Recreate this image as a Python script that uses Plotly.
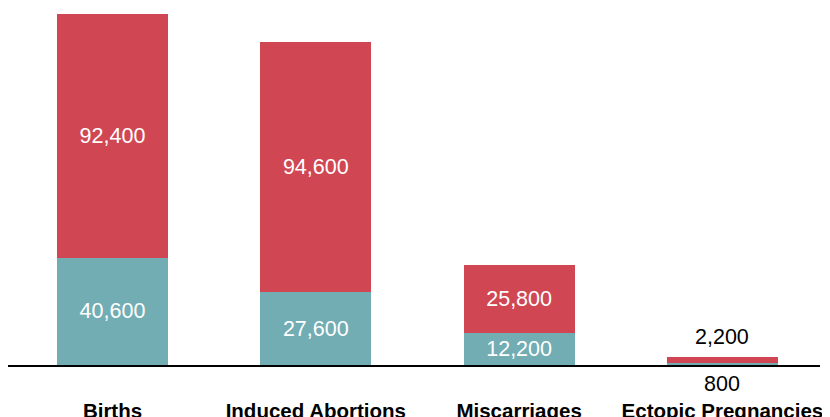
import plotly.graph_objects as go

categories = ["Births", "Induced Abortions", "Miscarriages", "Ectopic Pregnancies"]
bottom_values = [40600, 27600, 12200, 800]
top_values = [92400, 94600, 25800, 2200]

TEAL = "#72adb4"
RED = "#d04753"
FONT = "Liberation Sans, Arial, Helvetica, sans-serif"

def fmt(v):
    return f"{v:,}"

small = [i for i, (b, t) in enumerate(zip(bottom_values, top_values)) if b + t < 10000]

bottom_text = ["" if i in small else fmt(v) for i, v in enumerate(bottom_values)]
top_text = ["" if i in small else fmt(v) for i, v in enumerate(top_values)]

fig = go.Figure()
fig.add_trace(go.Bar(
    x=categories, y=bottom_values, marker=dict(color=TEAL, line=dict(width=0)),
    text=bottom_text, textposition="inside", insidetextanchor="middle",
    constraintext="none",
    textfont=dict(family=FONT, size=21.5, color="white"), hoverinfo="skip",
))
fig.add_trace(go.Bar(
    x=categories, y=top_values, marker=dict(color=RED, line=dict(width=0)),
    text=top_text, textposition="inside", insidetextanchor="middle",
    constraintext="none",
    textfont=dict(family=FONT, size=21.5, color="white"), hoverinfo="skip",
))

for i in small:
    fig.add_annotation(x=categories[i], y=bottom_values[i] + top_values[i],
                       text=fmt(top_values[i]), showarrow=False, yanchor="bottom",
                       yshift=6, font=dict(family=FONT, size=21.5, color="black"))
    fig.add_annotation(x=categories[i], y=0, text=fmt(bottom_values[i]),
                       showarrow=False, yanchor="top", yshift=-5,
                       font=dict(family=FONT, size=21.5, color="black"))

fig.update_layout(
    width=830, height=417,
    margin=dict(l=0, r=18, t=0, b=60, autoexpand=False),
    barmode="stack", bargap=0.454,
    showlegend=False,
    plot_bgcolor="white", paper_bgcolor="white",
    xaxis=dict(range=[-0.514, 3.48], showline=True, linecolor="black", linewidth=1.5,
               ticks="", showgrid=False, zeroline=False, automargin=False,
               tickfont=dict(family=FONT, size=20.5, color="black", weight="bold"),
               ticklabelstandoff=27),
    yaxis=dict(range=[0, 135270], visible=False, showgrid=False, zeroline=False),
)

fig.write_html("out.html")
